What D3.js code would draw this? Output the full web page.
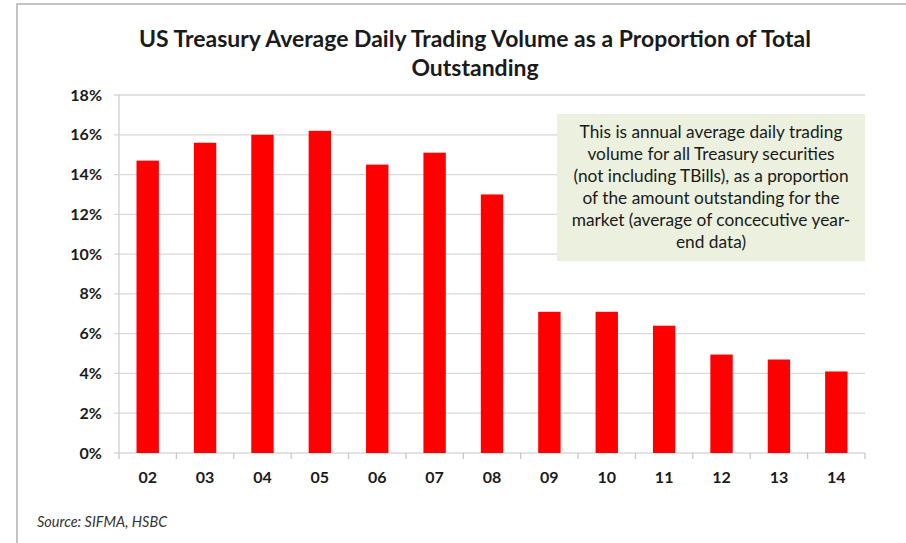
<!DOCTYPE html>
<html>
<head>
<meta charset="utf-8">
<script src="https://cdn.jsdelivr.net/npm/d3@7"></script>
<style>
  body { margin: 0; background: #fff; }
  svg { display: block; font-family: Lato, "Open Sans", sans-serif; }
</style>
</head>
<body>
<svg id="chart" width="906" height="543"></svg>
<script>
// data
const years = ['02', '03', '04', '05', '06', '07', '08', '09', '10', '11', '12', '13', '14']
const volumeShare = [14.7, 15.6, 16.0, 16.2, 14.5, 15.1, 13.0, 7.1, 7.1, 6.4, 4.95, 4.7, 4.1]
const yTicks = [0, 2, 4, 6, 8, 10, 12, 14, 16, 18]
const titleLines = ['US Treasury Average Daily Trading Volume as a Proportion of Total', 'Outstanding']
const noteLines = [
    'This is annual average daily trading',
    'volume for all Treasury securities',
    '(not including TBills), as a proportion',
    'of the amount outstanding for the',
    'market (average of concecutive year-',
    'end data)'
]
const source = 'Source: SIFMA, HSBC'

const svg = d3.select('#chart')

// frame round the picture
svg.append('path')
    .attr('d', 'M17,543 V4 H906')
    .attr('fill', 'none')
    .attr('stroke', '#c4c4c4')
    .attr('stroke-width', 2)

const plotLeft = 119, plotRight = 865, plotTop = 95, plotBottom = 453

const x = d3.scaleBand()
    .domain(years)
    .range([plotLeft, plotRight])
    .paddingInner(0.61)
    .paddingOuter(0.305)

const y = d3.scaleLinear()
    .domain([0, 18])
    .range([plotBottom, plotTop])

// gridlines
svg.append('g')
    .selectAll('line')
    .data(yTicks)
    .enter()
    .append('line')
    .attr('x1', plotLeft - 5)
    .attr('x2', plotRight)
    .attr('y1', d => y(d))
    .attr('y2', d => y(d))
    .attr('stroke', '#d9d9d9')
    .attr('stroke-width', 1.3)

// y axis line
svg.append('line')
    .attr('x1', plotLeft).attr('x2', plotLeft)
    .attr('y1', plotTop).attr('y2', plotBottom)
    .attr('stroke', '#d0d0d0')
    .attr('stroke-width', 1.3)

// x axis ticks at band edges
svg.append('g')
    .selectAll('line')
    .data(d3.range(years.length + 1))
    .enter()
    .append('line')
    .attr('x1', i => plotLeft + i * x.step())
    .attr('x2', i => plotLeft + i * x.step())
    .attr('y1', plotBottom)
    .attr('y2', plotBottom + 6)
    .attr('stroke', '#c8c8c8')
    .attr('stroke-width', 1.3)

// bars
svg.append('g')
    .selectAll('rect')
    .data(volumeShare)
    .enter()
    .append('rect')
    .attr('x', (d, i) => x(years[i]))
    .attr('y', d => y(d))
    .attr('width', x.bandwidth())
    .attr('height', d => plotBottom - y(d))
    .attr('fill', '#ff0000')

// y labels
svg.append('g')
    .selectAll('text')
    .data(yTicks)
    .enter()
    .append('text')
    .attr('x', 102)
    .attr('y', d => y(d))
    .attr('dy', '0.35em')
    .attr('text-anchor', 'end')
    .attr('font-size', 16)
    .attr('font-weight', 'bold')
    .attr('fill', '#1a1a1a')
    .text(d => d + '%')

// x labels
svg.append('g')
    .selectAll('text')
    .data(years)
    .enter()
    .append('text')
    .attr('x', d => x(d) + x.bandwidth() / 2)
    .attr('y', 477)
    .attr('dy', '0.35em')
    .attr('text-anchor', 'middle')
    .attr('font-size', 16)
    .attr('font-weight', 'bold')
    .attr('fill', '#1a1a1a')
    .text(d => d)

// title
let title = svg.append('g')
    .selectAll('text')
    .data(titleLines)
    .enter()
    .append('text')
    .attr('x', 475)
    .attr('y', (d, i) => 47 + i * 29)
    .attr('text-anchor', 'middle')
    .attr('font-size', 21)
    .attr('font-weight', 'bold')
    .attr('fill', '#1a1a1a')
    .text(d => d)
let w0 = title.nodes()[0].getComputedTextLength()
title.attr('font-size', 21 * 672 / w0)

// note box
svg.append('rect')
    .attr('x', 557)
    .attr('y', 114)
    .attr('width', 308)
    .attr('height', 147)
    .attr('fill', '#ebf1de')

let note = svg.append('g')
    .selectAll('text')
    .data(noteLines)
    .enter()
    .append('text')
    .attr('x', 711)
    .attr('y', (d, i) => 132 + i * 22)
    .attr('dy', '0.35em')
    .attr('text-anchor', 'middle')
    .attr('font-size', 15)
    .attr('fill', '#1a1a1a')
    .text(d => d)
let w1 = note.nodes()[0].getComputedTextLength()
note.attr('font-size', 15 * 263 / w1)

// source
svg.append('text')
    .attr('x', 37)
    .attr('y', 522)
    .attr('dy', '0.35em')
    .attr('font-size', 14.5)
    .attr('font-style', 'italic')
    .attr('fill', '#333')
    .text(source)
</script>
</body>
</html>
